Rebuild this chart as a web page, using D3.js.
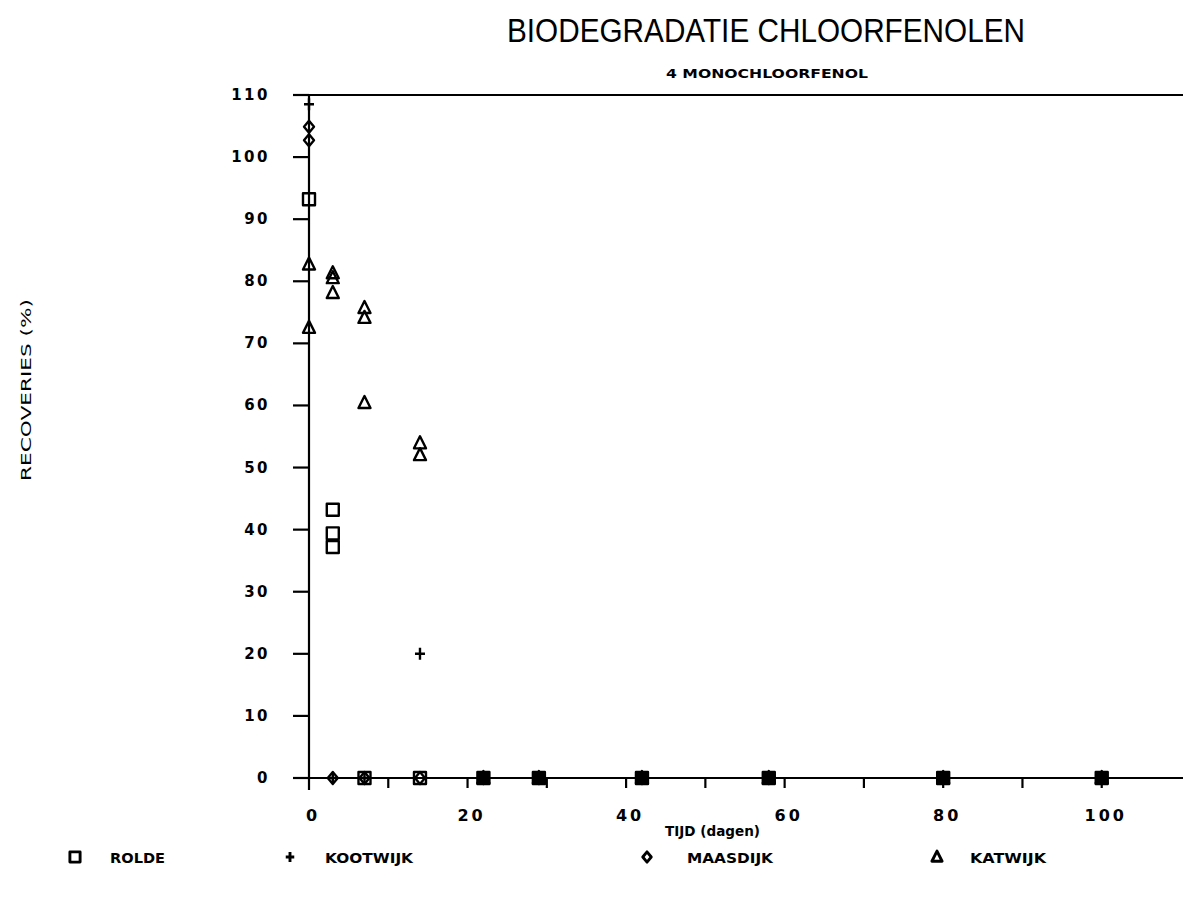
<!DOCTYPE html>
<html>
<head>
<meta charset="utf-8">
<script src="https://cdn.jsdelivr.net/npm/d3@7"></script>
<style>
  html, body { margin: 0; padding: 0; background: #fff; }
  svg { display: block; }
  text { fill: #000; }
</style>
</head>
<body>
<script>
// Recoveries (%) of 4-monochloorfenol per soil, as [dag, recovery] pairs
const rolde    = [[0, 93.2], [3, 43.2], [3, 39.4], [3, 37.2], [7, 0], [14, 0], [22, 0], [29, 0], [42, 0], [58, 0], [80, 0], [100, 0]];
const kootwijk = [[0, 108.5], [3, 0], [7, 0], [14, 20], [22, 0], [29, 0], [42, 0], [58, 0], [80, 0], [100, 0]];
const maasdijk = [[0, 104.9], [0, 102.7], [3, 0], [7, 0], [14, 0], [22, 0], [29, 0], [42, 0], [58, 0], [80, 0], [100, 0]];
const katwijk  = [[0, 82.7], [0, 72.5], [3, 81.3], [3, 80.5], [3, 78.1], [7, 75.7], [7, 74.1], [7, 60.4], [14, 53.9], [14, 52.0], [22, 0], [29, 0], [42, 0], [58, 0], [80, 0], [100, 0]];

const seriesNames = ["ROLDE", "KOOTWIJK", "MAASDIJK", "KATWIJK"];
const seriesData  = [rolde, kootwijk, maasdijk, katwijk];
const seriesShape = ["square", "plus", "diamond", "triangle"];

const xTicks = [0, 20, 40, 60, 80, 100];
const xMinorTicks = [10, 30, 50, 70, 90];
const yTicks = [0, 10, 20, 30, 40, 50, 60, 70, 80, 90, 100, 110];

const title = "BIODEGRADATIE CHLOORFENOLEN";
const subtitle = "4 MONOCHLOORFENOL";
const xTitle = "TIJD (dagen)";
const yTitle = "RECOVERIES (%)";

const W = 1183, H = 907;
const svg = d3.select("body").append("svg").attr("width", W).attr("height", H);

const x = d3.scaleLinear().domain([0, 110]).range([309, 1181]);
const y = d3.scaleLinear().domain([0, 110]).range([778, 95]);

const ink = "#000";
const numFont = "'DejaVu Sans', sans-serif";

// Titles
svg.append("text").attr("x", 507).attr("y", 42)
  .attr("font-family", "'Liberation Sans Narrow', 'Liberation Sans', Arial, sans-serif")
  .attr("font-size", 33)
  .attr("textLength", 518).attr("lengthAdjust", "spacingAndGlyphs")
  .text(title);
svg.append("text").attr("x", 666).attr("y", 78)
  .attr("font-family", numFont).attr("font-weight", "bold").attr("font-size", 12)
  .attr("textLength", 202).attr("lengthAdjust", "spacingAndGlyphs")
  .text(subtitle);

// Frame / axes
const axes = svg.append("g").attr("stroke", ink).attr("fill", "none").attr("stroke-width", 2.2);
axes.append("line").attr("x1", 293).attr("x2", W).attr("y1", y(110)).attr("y2", y(110));
axes.append("line").attr("x1", 293).attr("x2", W).attr("y1", y(0)).attr("y2", y(0));
axes.append("line").attr("x1", x(0)).attr("x2", x(0)).attr("y1", y(110) - 1).attr("y2", y(0) + 12);

// y ticks (pointing left)
axes.selectAll(".ytick").data(yTicks).join("line")
  .attr("x1", x(0) - 16).attr("x2", x(0))
  .attr("y1", d => y(d)).attr("y2", d => y(d));
// x ticks (pointing down)
axes.selectAll(".xtick").data(xTicks.concat(xMinorTicks).filter(d => d > 0)).join("line")
  .attr("x1", d => x(d)).attr("x2", d => x(d))
  .attr("y1", y(0)).attr("y2", y(0) + 10);

// Tick labels
svg.append("g").selectAll("text").data(yTicks).join("text")
  .attr("x", 270).attr("y", d => y(d) + 5)
  .attr("text-anchor", "end")
  .attr("font-family", numFont).attr("font-weight", "bold").attr("font-size", 15)
  .attr("letter-spacing", 2.5)
  .text(d => d);
svg.append("g").selectAll("text").data(xTicks).join("text")
  .attr("x", d => x(d) + 4).attr("y", 821)
  .attr("text-anchor", "middle")
  .attr("font-family", numFont).attr("font-weight", "bold").attr("font-size", 16)
  .attr("letter-spacing", 3)
  .text(d => d);

// Axis titles
svg.append("text").attr("x", 665).attr("y", 836)
  .attr("font-family", numFont).attr("font-weight", "bold").attr("font-size", 13.5)
  .attr("textLength", 95).attr("lengthAdjust", "spacingAndGlyphs")
  .text(xTitle);
svg.append("text")
  .attr("transform", "translate(31,390) rotate(-90)")
  .attr("text-anchor", "middle")
  .attr("font-family", numFont).attr("font-size", 14)
  .attr("textLength", 182).attr("lengthAdjust", "spacingAndGlyphs")
  .text(yTitle);

// Marker shapes
function markerPath(shape) {
  switch (shape) {
    case "square":   return "M-6,-6H6V6H-6Z";
    case "plus":     return "M-5,0H5M0,-6V6";
    case "diamond":  return "M0,-6L5,0L0,6L-5,0Z";
    case "triangle": return "M0,-7L6,5H-6Z";
  }
}

// Count coinciding observations across soils (heavy overlap prints as a filled blob)
const overlap = d3.rollup(seriesData.flat(), v => v.length, d => d[0] + "|" + d[1]);

const marks = svg.append("g");
seriesData.forEach((data, i) => {
  marks.append("g").selectAll("path").data(data).join("path")
    .attr("transform", d => `translate(${x(d[0])},${y(d[1])})`)
    .attr("d", markerPath(seriesShape[i]))
    .attr("fill", d => overlap.get(d[0] + "|" + d[1]) >= 4 ? ink : "none")
    .attr("stroke", ink).attr("stroke-width", 2.4)
    .attr("stroke-linejoin", "round");
});

// Legend
const legendPos = [[75, 110], [290, 325], [647, 687], [937, 970]];
const legendLen = [55, 88, 86, 76];
const legend = svg.append("g");
seriesNames.forEach((name, i) => {
  const [mx, tx] = legendPos[i];
  legend.append("path")
    .attr("transform", `translate(${mx},857) scale(0.85)`)
    .attr("d", markerPath(seriesShape[i]))
    .attr("fill", "none").attr("stroke", ink).attr("stroke-width", 3.4)
    .attr("stroke-linejoin", "round");
  legend.append("text").attr("x", tx).attr("y", 863)
    .attr("font-family", numFont).attr("font-weight", "bold").attr("font-size", 14.5)
    .attr("textLength", legendLen[i]).attr("lengthAdjust", "spacingAndGlyphs")
    .text(name);
});
</script>
</body>
</html>
